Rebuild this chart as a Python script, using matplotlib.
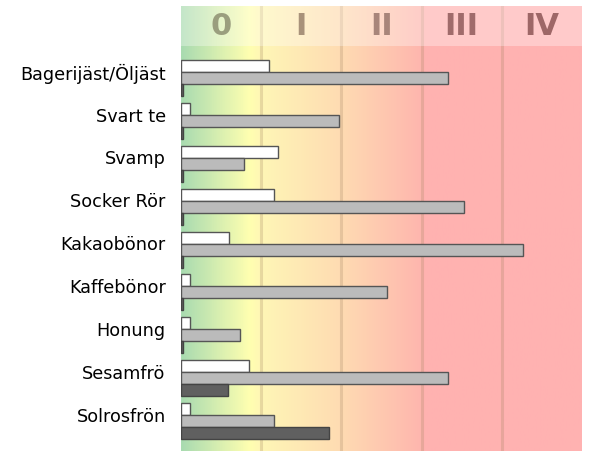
import numpy as np
import matplotlib
matplotlib.use("Agg")
from matplotlib import pyplot as plt
from matplotlib.colors import LinearSegmentedColormap

# --- data (klass-enheter, 0..5) ---
allergener = ["Bagerijäst/Öljäst", "Svart te", "Svamp", "Socker Rör", "Kakaobönor",
              "Kaffebönor", "Honung", "Sesamfrö", "Solrosfrön"]
varde_vit = [1.10, 0.11, 1.21, 1.16, 0.60, 0.11, 0.11, 0.85, 0.11]
varde_gra = [3.33, 1.97, 0.79, 3.53, 4.27, 2.57, 0.73, 3.33, 1.16]
varde_mork = [0.03, 0.03, 0.03, 0.03, 0.03, 0.03, 0.03, 0.58, 1.85]
klasser = ["0", "I", "II", "III", "IV"]
klass_farg = ["#9a9e7e", "#a8927a", "#a8857a", "#a06b6b", "#9e6767"]

fig = plt.figure(figsize=(5.89, 4.52), dpi=100)
ax = fig.add_axes([181 / 589, 0, 401 / 589, 445 / 452])

ytop, ybot = -1.68, 8.70

# bakgrund: gradient grön -> gul -> orange -> röd
cmap = LinearSegmentedColormap.from_list("klass", [
    (0.00, "#a9dbb0"),
    (0.17, "#ffffb0"),
    (0.20, "#fff6b6"),
    (0.40, "#fedbb2"),
    (0.60, "#ffb6ae"),
    (0.61, "#ffb2b0"),
    (1.00, "#ffb2b2"),
])
grad = np.linspace(0, 1, 500).reshape(1, -1)
ax.imshow(grad, cmap=cmap, aspect="auto", extent=[0, 5, ybot, ytop], zorder=0)

# klassgränser
for k in range(1, 5):
    ax.axvline(k, color="#a08060", alpha=0.25, linewidth=2.2, zorder=1)

# rubrikband med klasser
ax.fill_between([0, 5], ytop, -0.75, color="white", alpha=0.32, zorder=1, linewidth=0)
for k, namn in enumerate(klasser):
    ax.text(k + 0.5, (ytop - 0.75) / 2, namn, ha="center", va="center",
            fontsize=22, fontweight="bold", color=klass_farg[k], zorder=2)

y = np.arange(len(allergener))
h = 0.28
ax.barh(y - h, varde_vit, height=h, color="white", edgecolor="#555555", linewidth=1, zorder=3)
ax.barh(y, varde_gra, height=h, color="#bbbbbb", edgecolor="#555555", linewidth=1, zorder=3)
ax.barh(y + h, varde_mork, height=h, color="#606060", edgecolor="#444444", linewidth=1, zorder=3)

ax.set_xlim(0, 5)
ax.set_ylim(ybot, ytop)
ax.set_yticks(y - 0.17)
ax.set_yticklabels(allergener, fontsize=12.7)
ax.set_xticks([])
ax.tick_params(axis="y", length=0, pad=11)
for s in ax.spines.values():
    s.set_visible(False)

fig.savefig("out.png", dpi=100)
